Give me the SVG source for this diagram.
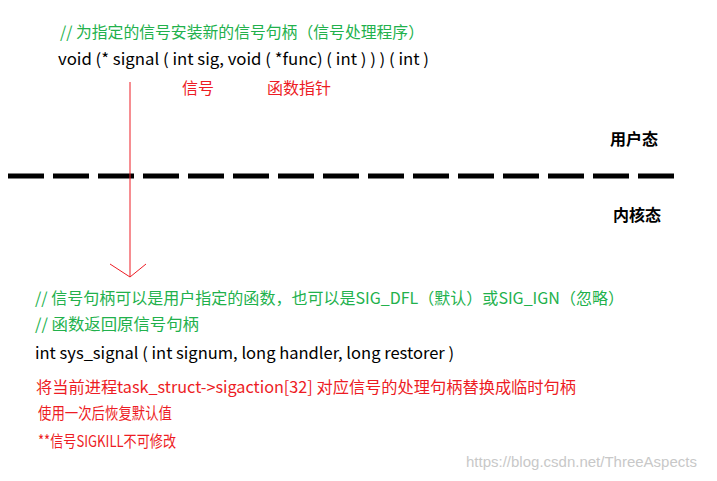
<svg xmlns="http://www.w3.org/2000/svg" width="717" height="481" viewBox="0 0 717 481">
<style>
text{font-family:"Noto Sans CJK SC","Noto Sans",sans-serif;font-size:16px}
.g{fill:#22b14c}.k{fill:#000}.r{fill:#ed1c24}.b{font-weight:bold;fill:#000}
.w{fill:#c8c8c8;font-family:"Liberation Sans",sans-serif;font-size:15px}
</style>
<rect width="717" height="481" fill="#fff"/>
<g id="top">
<text class="g" x="60" y="38" textLength="364" lengthAdjust="spacingAndGlyphs">// 为指定的信号安装新的信号句柄（信号处理程序）</text>
<text class="k" x="58" y="65" textLength="371" lengthAdjust="spacingAndGlyphs">void (* signal ( int sig, void ( *func) ( int ) ) ) ( int )</text>
<text class="r" x="182" y="94" textLength="32" lengthAdjust="spacingAndGlyphs">信号</text>
<text class="r" x="267" y="94" textLength="64" lengthAdjust="spacingAndGlyphs">函数指针</text>
</g>
<g id="labels">
<text class="b" x="610" y="145">用户态</text>
<text class="b" x="613" y="221">内核态</text>
</g>
<g id="connectors">
<line x1="8" y1="176" x2="682" y2="176" stroke="#000" stroke-width="5" stroke-dasharray="36 9"/>
<line x1="130" y1="82" x2="130" y2="277" stroke="#ed1c24" stroke-width="1"/>
<polyline points="110,264 130,277 146,264" fill="none" stroke="#ed1c24" stroke-width="1"/>
</g>
<g id="bottom">
<text class="g" x="35" y="304" textLength="589" lengthAdjust="spacingAndGlyphs">// 信号句柄可以是用户指定的函数，也可以是SIG_DFL（默认）或SIG_IGN（忽略）</text>
<text class="g" x="35" y="330" textLength="164" lengthAdjust="spacingAndGlyphs">// 函数返回原信号句柄</text>
<text class="k" x="35" y="359" textLength="419" lengthAdjust="spacingAndGlyphs">int sys_signal ( int signum, long handler, long restorer )</text>
<text class="r" x="36" y="393" textLength="540" lengthAdjust="spacingAndGlyphs">将当前进程task_struct-&gt;sigaction[32] 对应信号的处理句柄替换成临时句柄</text>
<text class="r" x="38" y="419" textLength="134" lengthAdjust="spacingAndGlyphs">使用一次后恢复默认值</text>
<text class="r" x="38" y="447" textLength="138" lengthAdjust="spacingAndGlyphs">**信号SIGKILL不可修改</text>
</g>
<text class="w" x="466" y="467">https://blog.csdn.net/ThreeAspects</text>
</svg>
